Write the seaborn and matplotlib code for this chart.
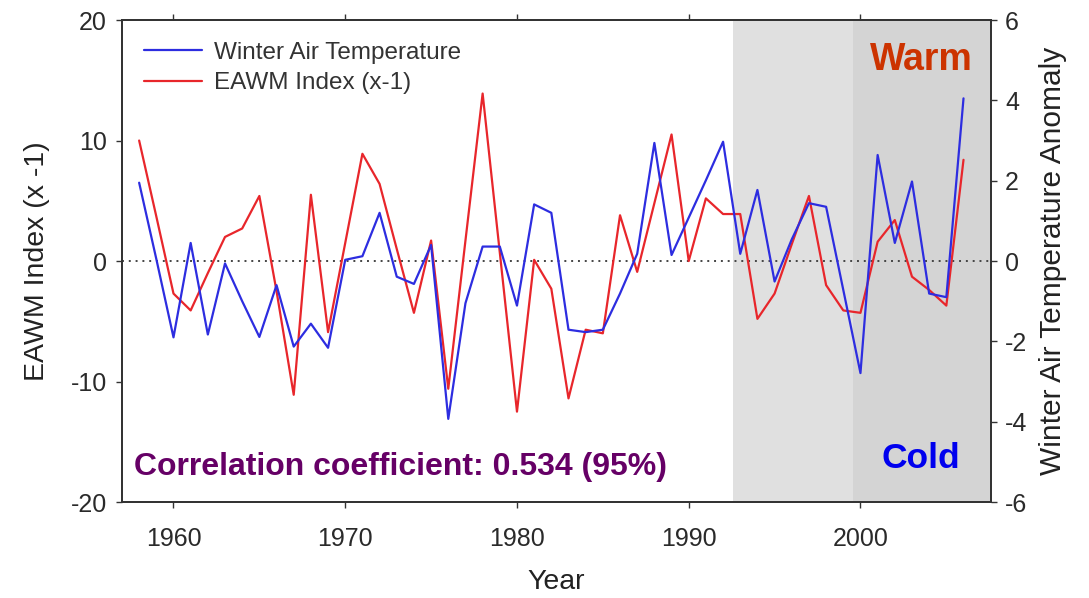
import numpy as np
import pandas as pd
import matplotlib
matplotlib.use("Agg")
import matplotlib.pyplot as plt
import seaborn as sns

years = list(range(1958, 2007))

# EAWM index multiplied by -1
eawm_neg = [10.0, 3.7, -2.7, -4.1, -1.0, 2.0, 2.7, 5.4, -2.5, -11.1,
            5.5, -5.9, 1.5, 8.9, 6.4, 1.0, -4.3, 1.7, -10.6, 1.7,
            13.9, 0.7, -12.5, 0.1, -2.3, -11.4, -5.7, -6.0, 3.8, -0.9,
            4.8, 10.5, 0.0, 5.2, 3.9, 3.9, -4.8, -2.7, 1.4, 5.4,
            -2.0, -4.1, -4.3, 1.6, 3.4, -1.3, -2.4, -3.7, 8.4]

# Winter air temperature anomaly (degC)
air_temp = [1.95, 0.05, -1.9, 0.45, -1.83, -0.06, -1.0, -1.89, -0.6, -2.13,
            -1.56, -2.16, 0.03, 0.12, 1.2, -0.39, -0.57, 0.4, -3.93, -1.05,
            0.36, 0.36, -1.11, 1.41, 1.2, -1.71, -1.77, -1.71, -0.81, 0.18,
            2.94, 0.15, 1.08, 2.01, 2.97, 0.18, 1.77, -0.51, 0.54, 1.44,
            1.35, -0.72, -2.79, 2.64, 0.45, 1.98, -0.81, -0.9, 4.05]

df = pd.DataFrame({"Year": years, "EAWM": eawm_neg, "Temp": air_temp})

sns.set_theme(style="white")
plt.rcParams["font.family"] = ["Liberation Sans", "DejaVu Sans"]
plt.rcParams["axes.unicode_minus"] = False

fig = plt.figure(figsize=(10.89, 5.98), dpi=100)
ax = fig.add_axes([0.112, 0.1605, 0.798, 0.806])
ax2 = ax.twinx()

# Shaded recent periods
ax.axvspan(1992.55, 1999.55, color="#e0e0e0", lw=0, zorder=0)
ax.axvspan(1999.55, 2007.6, color="#d4d4d4", lw=0, zorder=0)

ax.axhline(0, color="#444444", ls=(0, (1, 2.5)), lw=1.4, zorder=1)

sns.lineplot(data=df, x="Year", y="EAWM", ax=ax, color="#e8262b", lw=1.6,
             label="EAWM Index (x-1)", legend=False, zorder=3)
sns.lineplot(data=df, x="Year", y="Temp", ax=ax2, color="#2d2de0", lw=1.6,
             label="Winter Air Temperature", legend=False, zorder=3)

ax.set_xlim(1957, 2007.6)
ax.set_ylim(-20, 20)
ax2.set_ylim(-6, 6)
ax.set_yticks([-20, -10, 0, 10, 20])
ax2.set_yticks([-6, -4, -2, 0, 2, 4, 6])
ax.set_xticks([1960, 1970, 1980, 1990, 2000])

ax.set_xlabel("Year", fontsize=20.5, color="#222222")
ax.set_ylabel("EAWM Index (x -1)", fontsize=20.5, color="#222222")
ax2.set_ylabel("Winter Air Temperature Anomaly", fontsize=21.5, color="#222222")
ax.xaxis.set_label_coords(0.5, -0.138)
ax.yaxis.set_label_coords(-0.083, 0.5)
ax2.yaxis.set_label_coords(1.055, 0.5)

for a in (ax, ax2):
    for s in a.spines.values():
        s.set_color("#333333")
        s.set_linewidth(1.3)
ax.tick_params(axis="both", labelsize=18, colors="#333333", direction="out",
               length=4, width=1, labelcolor="#2a2a2a")
ax.tick_params(axis="x", top=True, bottom=True, pad=14)
ax.tick_params(axis="y", left=True, pad=7)
ax2.tick_params(axis="y", labelsize=18, right=True, direction="out", length=4,
                width=1, colors="#333333", labelcolor="#2a2a2a", pad=6)

ax2.patch.set_visible(False)

h1, l1 = ax.get_legend_handles_labels()
h2, l2 = ax2.get_legend_handles_labels()
ax2.legend(h2 + h1, l2 + l1, loc="upper left", frameon=False, fontsize=17.5,
           handlelength=2.4, handletextpad=0.5, labelspacing=0.35,
           bbox_to_anchor=(0.0, 1.0), labelcolor="#333333")

ax.text(0.979, 0.917, "Warm", transform=ax.transAxes, ha="right", va="center",
        fontsize=27, fontweight="bold", color="#cc3300")
ax.text(0.965, 0.091, "Cold", transform=ax.transAxes, ha="right", va="center",
        fontsize=25.5, fontweight="bold", color="#0000ee")
ax.text(0.014, 0.073, "Correlation coefficient: 0.534 (95%)", transform=ax.transAxes,
        ha="left", va="center", fontsize=23, fontweight="bold", color="#660066")

fig.savefig("out.png", dpi=100)
